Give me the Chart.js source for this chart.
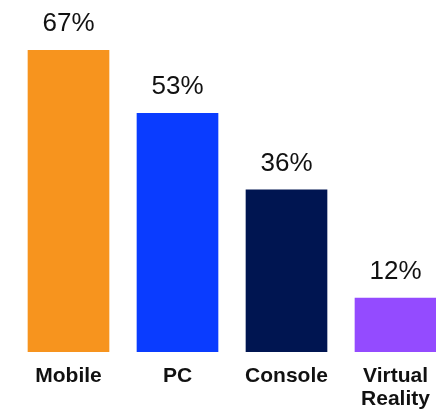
<!DOCTYPE html>
<html>
<head>
<meta charset="utf-8">
<script src="https://cdn.jsdelivr.net/npm/chart.js@4/dist/chart.umd.min.js"></script>
<style>
    html, body { margin: 0; padding: 0; background: #fff; overflow: hidden; }
    #wrap { position: relative; width: 450px; height: 415px; }
</style>
</head>
<body>
<div id="wrap"><canvas id="platform-chart"></canvas></div>
<script>
const platforms = ['Mobile', 'PC', 'Console', ['Virtual', 'Reality']];
const shares = [67, 53, 36, 12];
const barColors = ['#F7941E', '#0A3CFF', '#001551', '#944BFF'];

// prints "NN%" above each bar
const valueLabels = {
    id: 'valueLabels',
    afterDatasetsDraw(chart) {
        const ctx = chart.ctx;
        const meta = chart.getDatasetMeta(0);
        ctx.save();
        ctx.font = '26px "Liberation Sans", Arial, sans-serif';
        ctx.fillStyle = '#111';
        ctx.textAlign = 'center';
        ctx.textBaseline = 'alphabetic';
        meta.data.forEach((bar, i) => {
            ctx.fillText(shares[i] + '%', bar.x, bar.y - 19);
        });
        ctx.restore();
    }
};

new Chart(document.getElementById('platform-chart'), {
    type: 'bar',
    data: {
        labels: platforms,
        datasets: [{
            data: shares,
            backgroundColor: barColors,
            borderWidth: 0,
            barThickness: 81
        }]
    },
    options: {
        responsive: true,
        maintainAspectRatio: false,
        animation: false,
        layout: { padding: { left: 14, right: 0, top: 0, bottom: 0 } },
        plugins: {
            legend: { display: false },
            tooltip: { enabled: false }
        },
        scales: {
            y: {
                display: false,
                min: 0,
                max: 78.2
            },
            x: {
                grid: { display: false, drawTicks: false },
                border: { display: false },
                afterFit: function (scale) { scale.height = 63; },
                ticks: {
                    color: '#111',
                    padding: 13,
                    autoSkip: false,
                    maxRotation: 0,
                    font: { family: '"Liberation Sans", Arial, sans-serif', size: 21, weight: 'bold', lineHeight: 1.1 }
                }
            }
        }
    },
    plugins: [valueLabels]
});
</script>
</body>
</html>
